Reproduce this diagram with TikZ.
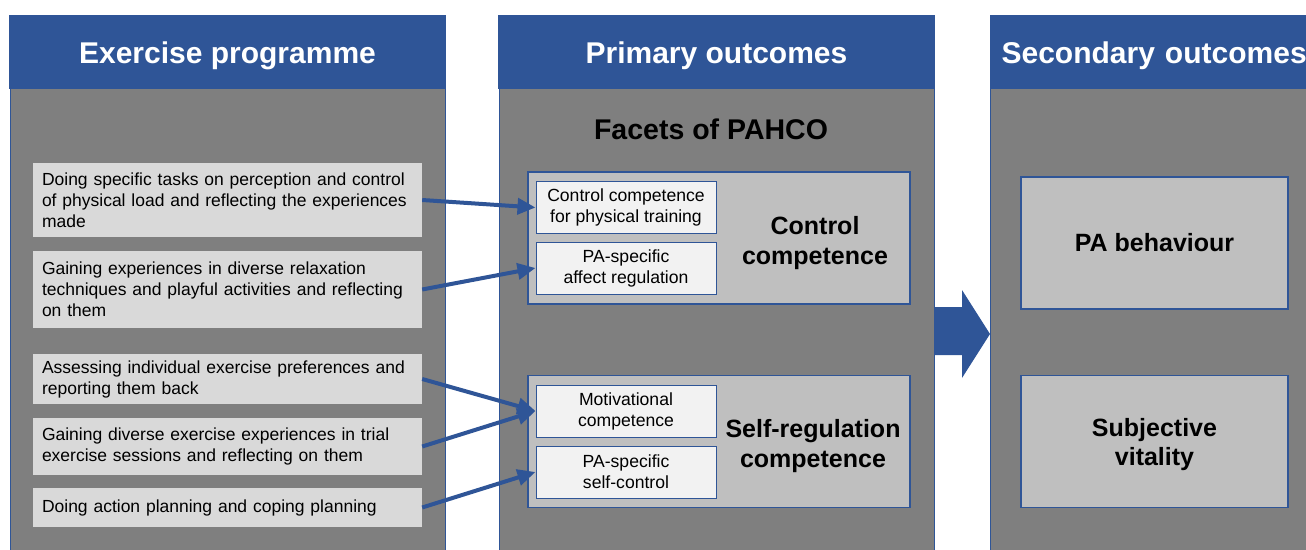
\documentclass[tikz,border=0pt]{standalone}
\usepackage{fontspec}
\setmainfont{Liberation Sans}
\usetikzlibrary{arrows.meta}

\definecolor{pahcoblue}{RGB}{47,85,151}
\definecolor{panelgray}{RGB}{127,127,127}
\definecolor{taskgray}{RGB}{217,217,217}
\definecolor{groupgray}{RGB}{191,191,191}
\definecolor{facetwhite}{RGB}{242,242,242}

\begin{document}
\begin{tikzpicture}[x=1pt,y=-1pt,
		panel/.style={draw=pahcoblue,fill=panelgray,line width=1.2pt,
			anchor=north west,minimum width=435pt,minimum height=560pt,inner sep=0pt},
		header/.style={draw=pahcoblue,fill=pahcoblue,line width=1.2pt,text=white,
			minimum width=435pt,minimum height=72pt,inner sep=0pt,
			text height=22pt,text depth=0pt,
			font=\bfseries\fontsize{30}{34}\selectfont},
		task/.style={fill=taskgray,text width=371pt,inner xsep=9pt,inner ysep=0pt,
			align=left,font=\fontsize{17.5}{21}\selectfont},
		group/.style={draw=pahcoblue,fill=groupgray,line width=1.2pt,
			minimum width=382pt,minimum height=132pt,inner sep=0pt},
		facet/.style={draw=pahcoblue,fill=facetwhite,line width=1pt,
			minimum width=180pt,minimum height=52pt,inner sep=0pt,align=center,
			font=\fontsize{17.6}{21}\selectfont},
		biglabel/.style={align=center,font=\bfseries\fontsize{25}{30}\selectfont},
		outcome/.style={draw=pahcoblue,fill=groupgray,line width=1.2pt,
			minimum width=267pt,minimum height=132pt,inner sep=0pt,align=center,
			font=\bfseries\fontsize{25}{29}\selectfont},
		link/.style={draw=pahcoblue,line width=4pt,
			-{Triangle[length=18pt,width=16pt]}}]

		\useasboundingbox (0,0) rectangle (1306,549);
		\clip (0,0) rectangle (1306,549);

		% three columns
		\node[panel] (prog) at (10,16) {};
		\node[panel] (prim) at (499,16) {};
		\node[panel] (sec) at (990,16) {};

		\node[header] (progtitle) at (227.5,52) {Exercise programme};
		\node[header] (primtitle) at (716.5,52) {Primary outcomes};
		\node[header,text width=424pt,inner xsep=11pt,align=left,anchor=west]
			(sectitle) at (990,52) {Secondary outcomes};

		% exercise programme contents
		\node[task,minimum height=74pt] (t1) at (227.5,200) {Doing specific tasks on perception and control\\of physical load and reflecting the experiences\\made};
		\node[task,minimum height=77pt] (t2) at (227.5,289.5) {Gaining experiences in diverse relaxation\\techniques and playful activities and reflecting\\on them};
		\node[task,minimum height=50pt] (t3) at (227.5,379) {Assessing individual exercise preferences and\\reporting them back};
		\node[task,minimum height=57pt] (t4) at (227.5,446.5) {Gaining diverse exercise experiences in trial\\exercise sessions and reflecting on them};
		\node[task,minimum height=39pt] (t5) at (227.5,507.5) {Doing action planning and coping planning};

		% facets of PAHCO
		\node[font=\bfseries\fontsize{28.5}{32}\selectfont] (facets) at (711,129) {Facets of PAHCO};

		\node[group] (ctrl) at (719,238) {};
		\node[facet] (f1) at (626,207.5) {Control competence\\for physical training};
		\node[facet] (f2) at (626,268) {PA-specific\\affect regulation};
		\node[biglabel] (ctrllabel) at (815,243) {Control\\competence};

		\node[group] (selfreg) at (719,441.5) {};
		\node[facet] (f3) at (626,411) {Motivational\\competence};
		\node[facet] (f4) at (626,472) {PA-specific\\self-control};
		\node[biglabel] (selfreglabel) at (813,446) {Self-regulation\\competence};

		% secondary outcomes
		\node[outcome] (behav) at (1154.5,243) {PA behaviour};
		\node[outcome] (vital) at (1154.5,441.5) {};
		\node[align=center,font=\bfseries\fontsize{25}{29}\selectfont]
			(vitallabel) at (1154.5,444.5) {Subjective\\vitality};

		% block arrow between the columns
		\fill[pahcoblue] (934,307) -- (962,307) -- (962,290) -- (990,334)
			-- (962,378) -- (962,355) -- (934,355) -- cycle;

		% links
		\draw[link] (t1.east) -- (f1.west);
		\draw[link] (t2.east) -- (f2.west);
		\draw[link] (t3.east) -- (f3.west);
		\draw[link] (t4.east) -- (f3.west);
		\draw[link] (t5.east) -- (f4.west);

\end{tikzpicture}
\end{document}
